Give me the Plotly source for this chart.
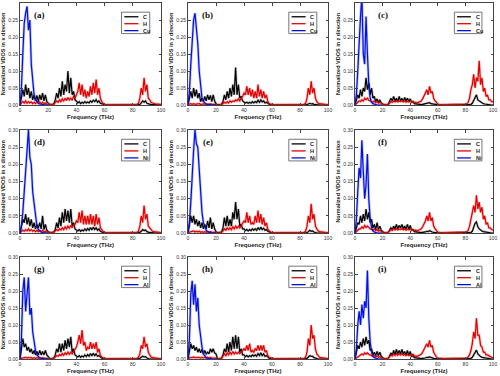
import plotly.graph_objects as go

# Frequency grid (THz), 1 THz step
FREQ = list(range(0, 101))

PANEL_LABELS = ["(a)", "(b)", "(c)", "(d)", "(e)", "(f)", "(g)", "(h)", "(i)"]
DIRECTIONS = ["x", "y", "z"]
METALS = ["Cu", "Ni", "Al"]
X_TICKS = [0, 20, 40, 60, 80, 100]
Y_TICKS = [0.00, 0.05, 0.10, 0.15, 0.20, 0.25, 0.30]
Y_TICK_TEXT = ["0.00", "0.05", "0.10", "0.15", "0.20", "0.25", "0.30"]

# ================= (a) Cu, x =================
C_a = [0, 0.02, 0.045, 0.025, 0.06, 0.03, 0.05, 0.02, 0.04, 0.015,
       0.03, 0.012, 0.028, 0.01, 0.03, 0.015, 0.035, 0.012, 0.03, 0.01,
       0.005, 0.002, 0.001, 0.001, 0.003, 0.015, 0.035, 0.02, 0.05, 0.025,
       0.07, 0.03, 0.06, 0.04, 0.1, 0.035, 0.08, 0.03, 0.04, 0.015,
       0.012, 0.006, 0.01, 0.004, 0.008, 0.005, 0.01, 0.006, 0.009, 0.006,
       0.012, 0.008, 0.014, 0.01, 0.016, 0.008, 0.012, 0.005, 0.003, 0.001,
       0.001, 0, 0, 0, 0, 0, 0, 0, 0, 0,
       0, 0, 0, 0, 0, 0, 0, 0, 0, 0,
       0, 0, 0, 0, 0, 0.002, 0.006, 0.012, 0.008, 0.012,
       0.005, 0.003, 0.002, 0.001, 0.001, 0.001, 0, 0, 0, 0,
       0]
H_a = [0.001, 0.005, 0.01, 0.006, 0.012, 0.005, 0.01, 0.006, 0.009, 0.004,
       0.008, 0.004, 0.01, 0.005, 0.009, 0.004, 0.008, 0.004, 0.006, 0.003,
       0.002, 0.001, 0.001, 0.001, 0.002, 0.008, 0.012, 0.008, 0.015, 0.01,
       0.018, 0.012, 0.02, 0.013, 0.022, 0.015, 0.02, 0.014, 0.025, 0.02,
       0.03, 0.04, 0.065, 0.03, 0.06, 0.025, 0.045, 0.02, 0.04, 0.025,
       0.055, 0.03, 0.065, 0.035, 0.075, 0.03, 0.05, 0.02, 0.01, 0.004,
       0.002, 0.001, 0.001, 0.001, 0.001, 0.001, 0.001, 0.001, 0.001, 0.001,
       0.001, 0.001, 0.001, 0.001, 0.001, 0.001, 0.001, 0.001, 0.001, 0.001,
       0.001, 0.001, 0.001, 0.002, 0.005, 0.02, 0.05, 0.03, 0.08, 0.04,
       0.06, 0.02, 0.015, 0.008, 0.006, 0.004, 0.003, 0.003, 0.002, 0.002,
       0.002]
Cu_a = [0, 0.05, 0.15, 0.24, 0.27, 0.29, 0.22, 0.25, 0.12, 0.07,
        0.03, 0.015, 0.008, 0.005, 0.003, 0.002, 0.001, 0, 0, 0, 0]

# ================= (b) Cu, y =================
C_b = [0, 0.02, 0.04, 0.02, 0.05, 0.025, 0.045, 0.02, 0.035, 0.01,
       0.02, 0.01, 0.025, 0.012, 0.03, 0.015, 0.028, 0.01, 0.03, 0.012,
       0.004, 0.001, 0.001, 0.001, 0.002, 0.01, 0.03, 0.015, 0.04, 0.02,
       0.05, 0.025, 0.06, 0.03, 0.11, 0.03, 0.06, 0.02, 0.025, 0.012,
       0.01, 0.006, 0.008, 0.005, 0.008, 0.005, 0.01, 0.006, 0.01, 0.007,
       0.014, 0.008, 0.015, 0.009, 0.012, 0.006, 0.008, 0.004, 0.002, 0.001,
       0, 0, 0, 0, 0, 0, 0, 0, 0, 0,
       0, 0, 0, 0, 0, 0, 0, 0, 0, 0,
       0, 0, 0, 0, 0, 0.001, 0.003, 0.005, 0.003, 0.004,
       0.002, 0.001, 0, 0, 0, 0, 0, 0, 0, 0,
       0]
H_b = [0.001, 0.002, 0.004, 0.002, 0.004, 0.002, 0.003, 0.002, 0.004, 0.002,
       0.003, 0.002, 0.003, 0.002, 0.003, 0.002, 0.003, 0.002, 0.003, 0.002,
       0.001, 0, 0, 0.001, 0.002, 0.004, 0.008, 0.005, 0.01, 0.006,
       0.012, 0.008, 0.012, 0.01, 0.015, 0.012, 0.018, 0.012, 0.02, 0.025,
       0.035, 0.03, 0.055, 0.03, 0.05, 0.025, 0.045, 0.02, 0.04, 0.02,
       0.06, 0.025, 0.045, 0.02, 0.04, 0.02, 0.03, 0.01, 0.004, 0.002,
       0.001, 0.001, 0.001, 0.001, 0.001, 0.001, 0.001, 0.001, 0.001, 0.001,
       0.001, 0.001, 0.001, 0.001, 0.001, 0.001, 0.001, 0.001, 0.001, 0.001,
       0.001, 0.001, 0.001, 0.002, 0.005, 0.02, 0.05, 0.03, 0.07, 0.035,
       0.05, 0.02, 0.01, 0.005, 0.004, 0.003, 0.002, 0.002, 0.001, 0.001,
       0.001]
Cu_b = [0, 0.04, 0.12, 0.2, 0.25, 0.27, 0.23, 0.18, 0.1, 0.05,
        0.02, 0.01, 0.005, 0.003, 0.002, 0.001, 0, 0, 0, 0, 0]

# ================= (c) Cu, z =================
C_c = [0, 0.015, 0.03, 0.02, 0.045, 0.025, 0.05, 0.04, 0.08, 0.045,
       0.065, 0.03, 0.05, 0.02, 0.025, 0.01, 0.018, 0.008, 0.015, 0.006,
       0.003, 0.001, 0.001, 0.001, 0.002, 0.01, 0.02, 0.012, 0.025, 0.012,
       0.02, 0.01, 0.025, 0.012, 0.02, 0.01, 0.022, 0.012, 0.02, 0.01,
       0.018, 0.008, 0.01, 0.004, 0.003, 0.002, 0.001, 0.001, 0.001, 0.002,
       0.003, 0.004, 0.006, 0.005, 0.007, 0.004, 0.003, 0.002, 0.001, 0.001,
       0, 0, 0, 0, 0, 0, 0, 0, 0, 0,
       0, 0, 0, 0, 0, 0, 0, 0, 0, 0,
       0, 0, 0, 0, 0.002, 0.005, 0.015, 0.025, 0.03, 0.015,
       0.012, 0.008, 0.006, 0.004, 0.003, 0.002, 0.001, 0.001, 0, 0,
       0]
H_c = [0, 0.003, 0.008, 0.012, 0.01, 0.015, 0.012, 0.02, 0.016, 0.02,
       0.014, 0.012, 0.01, 0.008, 0.012, 0.007, 0.01, 0.005, 0.008, 0.004,
       0.002, 0.001, 0.001, 0.001, 0.002, 0.005, 0.01, 0.008, 0.012, 0.009,
       0.013, 0.009, 0.012, 0.01, 0.013, 0.009, 0.012, 0.008, 0.011, 0.009,
       0.012, 0.008, 0.01, 0.007, 0.008, 0.006, 0.008, 0.01, 0.012, 0.018,
       0.025, 0.035, 0.045, 0.03, 0.055, 0.035, 0.04, 0.02, 0.012, 0.006,
       0.003, 0.002, 0.001, 0.001, 0.001, 0.001, 0.001, 0.001, 0.001, 0.001,
       0.001, 0.001, 0.001, 0.001, 0.001, 0.001, 0.001, 0.001, 0.001, 0.001,
       0.002, 0.003, 0.008, 0.02, 0.045, 0.06, 0.09, 0.05, 0.08, 0.07,
       0.13, 0.06, 0.08, 0.04, 0.05, 0.025, 0.03, 0.015, 0.015, 0.01,
       0.01]
Cu_c = [0, 0.03, 0.1, 0.2, 0.26, 0.32, 0.15, 0.12, 0.26, 0.15,
        0.06, 0.02, 0.008, 0.004, 0.002, 0.001, 0, 0, 0, 0, 0]

# ================= (d) Ni, x =================
C_d = [0, 0.02, 0.04, 0.03, 0.055, 0.025, 0.045, 0.02, 0.04, 0.015,
       0.03, 0.012, 0.025, 0.015, 0.03, 0.012, 0.05, 0.01, 0.025, 0.008,
       0.004, 0.001, 0.001, 0.001, 0.003, 0.01, 0.03, 0.015, 0.045, 0.02,
       0.06, 0.03, 0.07, 0.035, 0.065, 0.03, 0.07, 0.02, 0.03, 0.012,
       0.01, 0.006, 0.01, 0.005, 0.009, 0.006, 0.012, 0.007, 0.013, 0.008,
       0.016, 0.009, 0.017, 0.01, 0.015, 0.008, 0.012, 0.005, 0.003, 0.001,
       0, 0, 0, 0, 0, 0, 0, 0, 0, 0,
       0, 0, 0, 0, 0, 0, 0, 0, 0, 0,
       0, 0, 0, 0, 0, 0.002, 0.005, 0.01, 0.007, 0.009,
       0.004, 0.002, 0.001, 0.001, 0, 0, 0, 0, 0, 0,
       0]
H_d = [0.001, 0.004, 0.008, 0.005, 0.01, 0.006, 0.012, 0.006, 0.01, 0.005,
       0.008, 0.004, 0.008, 0.004, 0.007, 0.004, 0.008, 0.003, 0.005, 0.003,
       0.002, 0.001, 0.001, 0.001, 0.002, 0.006, 0.01, 0.007, 0.012, 0.009,
       0.015, 0.01, 0.018, 0.012, 0.02, 0.014, 0.022, 0.015, 0.025, 0.025,
       0.035, 0.03, 0.06, 0.03, 0.065, 0.025, 0.05, 0.025, 0.05, 0.025,
       0.055, 0.025, 0.05, 0.02, 0.055, 0.025, 0.045, 0.015, 0.008, 0.004,
       0.002, 0.001, 0.001, 0.001, 0.001, 0.001, 0.001, 0.001, 0.001, 0.001,
       0.001, 0.001, 0.001, 0.001, 0.001, 0.001, 0.001, 0.001, 0.001, 0.001,
       0.001, 0.001, 0.001, 0.002, 0.005, 0.02, 0.05, 0.03, 0.08, 0.04,
       0.055, 0.02, 0.015, 0.008, 0.005, 0.004, 0.003, 0.002, 0.002, 0.001,
       0.001]
Ni_d = [0, 0.02, 0.06, 0.12, 0.2, 0.26, 0.3, 0.22, 0.2, 0.12,
        0.08, 0.04, 0.02, 0.01, 0.005, 0.003, 0.001, 0, 0, 0, 0]

# ================= (e) Ni, y =================
C_e = [0, 0.025, 0.05, 0.03, 0.05, 0.025, 0.04, 0.02, 0.035, 0.015,
       0.03, 0.012, 0.025, 0.012, 0.035, 0.015, 0.045, 0.012, 0.03, 0.012,
       0.004, 0.001, 0.001, 0.001, 0.003, 0.015, 0.045, 0.02, 0.05, 0.02,
       0.04, 0.02, 0.06, 0.04, 0.09, 0.04, 0.07, 0.02, 0.025, 0.012,
       0.012, 0.007, 0.01, 0.006, 0.01, 0.007, 0.012, 0.008, 0.012, 0.008,
       0.016, 0.009, 0.017, 0.01, 0.014, 0.008, 0.01, 0.005, 0.003, 0.001,
       0, 0, 0, 0, 0, 0, 0, 0, 0, 0,
       0, 0, 0, 0, 0, 0, 0, 0, 0, 0,
       0, 0, 0, 0, 0, 0.001, 0.004, 0.008, 0.005, 0.006,
       0.003, 0.001, 0, 0, 0, 0, 0, 0, 0, 0,
       0]
H_e = [0.001, 0.002, 0.004, 0.003, 0.006, 0.003, 0.005, 0.003, 0.005, 0.002,
       0.004, 0.002, 0.004, 0.002, 0.004, 0.002, 0.004, 0.002, 0.003, 0.002,
       0.001, 0, 0, 0.001, 0.002, 0.006, 0.012, 0.008, 0.015, 0.01,
       0.015, 0.01, 0.018, 0.012, 0.02, 0.014, 0.02, 0.015, 0.022, 0.025,
       0.035, 0.03, 0.06, 0.03, 0.05, 0.025, 0.03, 0.025, 0.05, 0.03,
       0.065, 0.03, 0.055, 0.025, 0.045, 0.02, 0.03, 0.01, 0.005, 0.003,
       0.002, 0.001, 0.001, 0.001, 0.001, 0.001, 0.001, 0.001, 0.001, 0.001,
       0.001, 0.001, 0.001, 0.001, 0.001, 0.001, 0.001, 0.001, 0.001, 0.001,
       0.001, 0.001, 0.001, 0.002, 0.005, 0.02, 0.05, 0.03, 0.085, 0.04,
       0.055, 0.02, 0.012, 0.006, 0.004, 0.003, 0.002, 0.002, 0.001, 0.001,
       0.001]
Ni_e = [0, 0.03, 0.09, 0.18, 0.24, 0.3, 0.26, 0.25, 0.18, 0.12,
        0.06, 0.03, 0.015, 0.008, 0.004, 0.002, 0.001, 0, 0, 0, 0]

# ================= (f) Ni, z =================
C_f = [0, 0.015, 0.03, 0.025, 0.05, 0.03, 0.055, 0.035, 0.07, 0.04,
       0.06, 0.03, 0.04, 0.015, 0.025, 0.01, 0.03, 0.01, 0.02, 0.008,
       0.003, 0.001, 0.001, 0.001, 0.002, 0.008, 0.015, 0.01, 0.02, 0.012,
       0.025, 0.012, 0.022, 0.015, 0.025, 0.012, 0.02, 0.012, 0.025, 0.01,
       0.022, 0.008, 0.01, 0.004, 0.003, 0.002, 0.001, 0.001, 0.001, 0.002,
       0.002, 0.003, 0.005, 0.004, 0.007, 0.004, 0.003, 0.002, 0.001, 0.001,
       0, 0, 0, 0, 0, 0, 0, 0, 0, 0,
       0, 0, 0, 0, 0, 0, 0, 0, 0, 0,
       0, 0, 0, 0, 0.002, 0.005, 0.015, 0.028, 0.032, 0.018,
       0.012, 0.008, 0.006, 0.004, 0.003, 0.002, 0.001, 0.001, 0, 0,
       0]
H_f = [0, 0.003, 0.008, 0.012, 0.012, 0.018, 0.014, 0.022, 0.016, 0.02,
       0.015, 0.012, 0.01, 0.008, 0.012, 0.007, 0.01, 0.005, 0.008, 0.004,
       0.002, 0.001, 0.001, 0.001, 0.002, 0.005, 0.01, 0.008, 0.012, 0.009,
       0.013, 0.009, 0.012, 0.01, 0.013, 0.009, 0.012, 0.008, 0.011, 0.009,
       0.012, 0.008, 0.01, 0.007, 0.008, 0.006, 0.008, 0.01, 0.012, 0.018,
       0.025, 0.035, 0.05, 0.035, 0.06, 0.035, 0.045, 0.02, 0.012, 0.006,
       0.003, 0.002, 0.001, 0.001, 0.001, 0.001, 0.001, 0.001, 0.001, 0.001,
       0.001, 0.001, 0.001, 0.001, 0.001, 0.001, 0.001, 0.001, 0.001, 0.001,
       0.002, 0.003, 0.008, 0.02, 0.04, 0.06, 0.08, 0.06, 0.11, 0.07,
       0.09, 0.06, 0.075, 0.04, 0.05, 0.025, 0.03, 0.015, 0.015, 0.01,
       0.008]
Ni_f = [0, 0.04, 0.12, 0.19, 0.16, 0.27, 0.18, 0.1, 0.14, 0.23,
        0.1, 0.04, 0.015, 0.006, 0.003, 0.001, 0, 0, 0, 0, 0]

# ================= (g) Al, x =================
C_g = [0, 0.03, 0.06, 0.035, 0.045, 0.025, 0.035, 0.02, 0.03, 0.015,
       0.025, 0.012, 0.022, 0.012, 0.025, 0.012, 0.022, 0.012, 0.025, 0.012,
       0.006, 0.002, 0.001, 0.001, 0.003, 0.012, 0.03, 0.02, 0.045, 0.02,
       0.045, 0.025, 0.055, 0.03, 0.06, 0.035, 0.065, 0.02, 0.03, 0.012,
       0.01, 0.006, 0.01, 0.005, 0.009, 0.006, 0.012, 0.007, 0.013, 0.008,
       0.016, 0.009, 0.017, 0.01, 0.015, 0.008, 0.01, 0.005, 0.002, 0.001,
       0, 0, 0, 0, 0, 0, 0, 0, 0, 0,
       0, 0, 0, 0, 0, 0, 0, 0, 0, 0,
       0, 0, 0, 0, 0, 0.002, 0.005, 0.008, 0.006, 0.007,
       0.003, 0.001, 0, 0, 0, 0, 0, 0, 0, 0,
       0]
H_g = [0.001, 0.002, 0.004, 0.003, 0.005, 0.003, 0.005, 0.003, 0.004, 0.002,
       0.004, 0.002, 0.004, 0.002, 0.004, 0.002, 0.004, 0.002, 0.003, 0.002,
       0.001, 0, 0, 0.001, 0.002, 0.006, 0.01, 0.008, 0.013, 0.01,
       0.016, 0.011, 0.018, 0.013, 0.02, 0.014, 0.02, 0.015, 0.022, 0.025,
       0.035, 0.05, 0.07, 0.045, 0.085, 0.04, 0.05, 0.025, 0.035, 0.03,
       0.05, 0.03, 0.045, 0.03, 0.05, 0.02, 0.03, 0.01, 0.005, 0.003,
       0.002, 0.001, 0.001, 0.001, 0.001, 0.001, 0.001, 0.001, 0.001, 0.001,
       0.001, 0.001, 0.001, 0.001, 0.001, 0.001, 0.001, 0.001, 0.001, 0.001,
       0.001, 0.001, 0.001, 0.002, 0.005, 0.015, 0.04, 0.03, 0.065, 0.035,
       0.045, 0.02, 0.012, 0.006, 0.004, 0.003, 0.002, 0.002, 0.001, 0.001,
       0.001]
Al_g = [0, 0.06, 0.2, 0.24, 0.14, 0.2, 0.24, 0.13, 0.15, 0.08,
        0.05, 0.025, 0.012, 0.006, 0.003, 0.002, 0.001, 0, 0, 0, 0]

# ================= (h) Al, y =================
C_h = [0, 0.02, 0.045, 0.03, 0.04, 0.025, 0.035, 0.02, 0.03, 0.018,
       0.028, 0.015, 0.025, 0.015, 0.02, 0.015, 0.03, 0.02, 0.03, 0.018,
       0.015, 0.002, 0.001, 0.001, 0.003, 0.012, 0.03, 0.02, 0.045, 0.02,
       0.05, 0.025, 0.065, 0.03, 0.07, 0.03, 0.065, 0.02, 0.03, 0.012,
       0.012, 0.007, 0.01, 0.006, 0.01, 0.007, 0.012, 0.008, 0.012, 0.008,
       0.016, 0.01, 0.018, 0.01, 0.015, 0.008, 0.01, 0.005, 0.002, 0.001,
       0, 0, 0, 0, 0, 0, 0, 0, 0, 0,
       0, 0, 0, 0, 0, 0, 0, 0, 0, 0,
       0, 0, 0, 0, 0, 0.002, 0.006, 0.01, 0.008, 0.008,
       0.004, 0.002, 0.001, 0, 0, 0, 0, 0, 0, 0,
       0]
H_h = [0.001, 0.003, 0.005, 0.004, 0.006, 0.004, 0.005, 0.004, 0.005, 0.003,
       0.005, 0.003, 0.005, 0.003, 0.005, 0.003, 0.005, 0.003, 0.004, 0.003,
       0.002, 0, 0, 0.001, 0.002, 0.008, 0.015, 0.01, 0.018, 0.012,
       0.02, 0.014, 0.022, 0.015, 0.02, 0.016, 0.02, 0.016, 0.022, 0.025,
       0.03, 0.025, 0.04, 0.025, 0.045, 0.02, 0.025, 0.02, 0.03, 0.025,
       0.04, 0.025, 0.04, 0.025, 0.04, 0.02, 0.025, 0.01, 0.005, 0.003,
       0.002, 0.001, 0.001, 0.001, 0.001, 0.001, 0.001, 0.001, 0.001, 0.001,
       0.001, 0.001, 0.001, 0.001, 0.001, 0.001, 0.001, 0.001, 0.001, 0.001,
       0.001, 0.001, 0.001, 0.002, 0.005, 0.02, 0.06, 0.04, 0.1, 0.06,
       0.07, 0.03, 0.015, 0.008, 0.005, 0.004, 0.003, 0.002, 0.002, 0.001,
       0.001]
Al_h = [0, 0.06, 0.19, 0.23, 0.16, 0.22, 0.14, 0.18, 0.1, 0.06,
        0.035, 0.015, 0.008, 0.004, 0.002, 0.001, 0, 0, 0, 0, 0]

# ================= (i) Al, z =================
C_i = [0, 0.02, 0.04, 0.03, 0.05, 0.035, 0.06, 0.04, 0.065, 0.045,
       0.055, 0.025, 0.03, 0.012, 0.02, 0.01, 0.022, 0.01, 0.02, 0.008,
       0.003, 0.001, 0.001, 0.001, 0.002, 0.008, 0.018, 0.01, 0.025, 0.012,
       0.028, 0.015, 0.025, 0.015, 0.028, 0.014, 0.022, 0.012, 0.025, 0.01,
       0.022, 0.008, 0.01, 0.004, 0.003, 0.002, 0.001, 0.001, 0.001, 0.002,
       0.002, 0.003, 0.005, 0.004, 0.006, 0.004, 0.003, 0.002, 0.001, 0.001,
       0, 0, 0, 0, 0, 0, 0, 0, 0, 0,
       0, 0, 0, 0, 0, 0, 0, 0, 0, 0,
       0, 0, 0, 0, 0.002, 0.005, 0.012, 0.022, 0.026, 0.015,
       0.01, 0.007, 0.005, 0.004, 0.003, 0.002, 0.001, 0.001, 0, 0,
       0]
H_i = [0, 0.003, 0.008, 0.01, 0.012, 0.015, 0.012, 0.018, 0.014, 0.018,
       0.014, 0.012, 0.01, 0.008, 0.01, 0.007, 0.009, 0.005, 0.007, 0.004,
       0.002, 0.001, 0.001, 0.001, 0.002, 0.006, 0.012, 0.009, 0.015, 0.01,
       0.016, 0.011, 0.015, 0.012, 0.016, 0.011, 0.014, 0.01, 0.013, 0.01,
       0.012, 0.009, 0.014, 0.008, 0.009, 0.007, 0.009, 0.011, 0.014, 0.02,
       0.03, 0.035, 0.045, 0.035, 0.055, 0.035, 0.04, 0.02, 0.012, 0.006,
       0.003, 0.002, 0.001, 0.001, 0.001, 0.001, 0.001, 0.001, 0.001, 0.001,
       0.001, 0.001, 0.001, 0.001, 0.001, 0.001, 0.001, 0.001, 0.001, 0.001,
       0.002, 0.003, 0.006, 0.012, 0.025, 0.045, 0.08, 0.06, 0.12, 0.07,
       0.07, 0.04, 0.035, 0.02, 0.02, 0.012, 0.012, 0.008, 0.007, 0.005,
       0.004]
Al_i = [0, 0.03, 0.1, 0.14, 0.1, 0.16, 0.12, 0.17, 0.15, 0.26,
        0.12, 0.05, 0.02, 0.008, 0.004, 0.002, 0.001, 0, 0, 0, 0]

C_SERIES = [C_a, C_b, C_c, C_d, C_e, C_f, C_g, C_h, C_i]
H_SERIES = [H_a, H_b, H_c, H_d, H_e, H_f, H_g, H_h, H_i]
M_SERIES = [Cu_a, Cu_b, Cu_c, Ni_d, Ni_e, Ni_f, Al_g, Al_h, Al_i]

# ---- layout geometry ----
W, H = 500, 376
COL_PX = [(20, 161), (188, 328), (355, 493)]
ROW_PX = [(3, 105), (130, 233), (257, 359)]

COLORS = {"C": "#000000", "H": "#e00000", "M": "#0010e0"}
HALO = {"C": "rgba(150,150,150,0.5)", "H": "rgba(255,120,120,0.5)", "M": "rgba(120,130,255,0.5)"}

fig = go.Figure()
layout = dict(width=W, height=H, margin=dict(l=0, r=0, t=0, b=0, autoexpand=False),
              paper_bgcolor="white", plot_bgcolor="white", showlegend=False,
              font=dict(family="Arial, Liberation Sans, sans-serif", color="#222"))
shapes = []
annotations = []

for k in range(9):
    r, c = divmod(k, 3)
    n = k + 1
    xa = "x" if n == 1 else f"x{n}"
    ya = "y" if n == 1 else f"y{n}"
    x0, x1 = COL_PX[c]
    y0, y1 = ROW_PX[r]
    xdom = [x0 / W, x1 / W]
    ydom = [1 - y1 / H, 1 - y0 / H]
    axis_common = dict(showgrid=False, zeroline=False, showline=True, linecolor="#444",
                       linewidth=1, mirror="ticks", ticks="inside", ticklen=2.5,
                       tickcolor="#444", tickfont=dict(size=5, color="#333"),
                       automargin=False)
    layout[f"xaxis{'' if n == 1 else n}"] = dict(
        domain=xdom, anchor=ya, range=[0, 100], tickvals=X_TICKS,
        title=dict(text="<b>Frequency (THz)</b>", font=dict(size=6, color="#222"), standoff=2),
        **axis_common)
    layout[f"yaxis{'' if n == 1 else n}"] = dict(
        domain=ydom, anchor=xa, range=[0, 0.30], tickvals=Y_TICKS, ticktext=Y_TICK_TEXT,
        title=dict(text=f"<b>Normalized VDOS in {DIRECTIONS[c]} direction</b>",
                   font=dict(size=5.5, color="#222"), standoff=2),
        **axis_common)

    for key, ys in (("C", C_SERIES[k]), ("H", H_SERIES[k]), ("M", M_SERIES[k])):
        ys = ys[:len(FREQ)]
        xs = FREQ[:len(ys)]
        fig.add_trace(go.Scatter(x=xs, y=ys, mode="lines", xaxis=xa, yaxis=ya,
                                 line=dict(color=HALO[key], width=2.6), hoverinfo="skip"))
    for key, ys, name in (("C", C_SERIES[k], "C"), ("H", H_SERIES[k], "H"),
                          ("M", M_SERIES[k], METALS[r])):
        ys = ys[:len(FREQ)]
        xs = FREQ[:len(ys)]
        fig.add_trace(go.Scatter(x=xs, y=ys, mode="lines", xaxis=xa, yaxis=ya, name=name,
                                 line=dict(color=COLORS[key], width=1.2)))

    # panel label
    annotations.append(dict(text=f"<b>{PANEL_LABELS[k]}</b>", xref=f"{xa} domain", yref=f"{ya} domain",
                            x=0.14 if c < 2 else 0.2, y=0.88, showarrow=False,
                            font=dict(family="Liberation Serif, DejaVu Serif, serif", size=9, color="#111"),
                            xanchor="center", yanchor="middle"))
    # legend box
    shapes.append(dict(type="rect", xref=f"{xa} domain", yref=f"{ya} domain",
                       x0=0.72, x1=0.92, y0=0.70, y1=0.91,
                       line=dict(color="#555", width=0.8), fillcolor="white"))
    for j, (key, name) in enumerate((("C", "C"), ("H", "H"), ("M", METALS[r]))):
        yy = 0.865 - j * 0.068
        shapes.append(dict(type="line", xref=f"{xa} domain", yref=f"{ya} domain",
                           x0=0.74, x1=0.84, y0=yy, y1=yy,
                           line=dict(color=COLORS[key], width=1.3)))
        annotations.append(dict(text=f"<b>{name}</b>", xref=f"{xa} domain", yref=f"{ya} domain",
                                x=0.86, y=yy, showarrow=False, xanchor="left", yanchor="middle",
                                font=dict(size=5.5, color="#222")))

layout["shapes"] = shapes
layout["annotations"] = annotations
fig.update_layout(**layout)
fig.write_html("out.html", config={"displayModeBar": False},
               post_script="document.body.style.margin='0';document.body.style.overflow='hidden';")
